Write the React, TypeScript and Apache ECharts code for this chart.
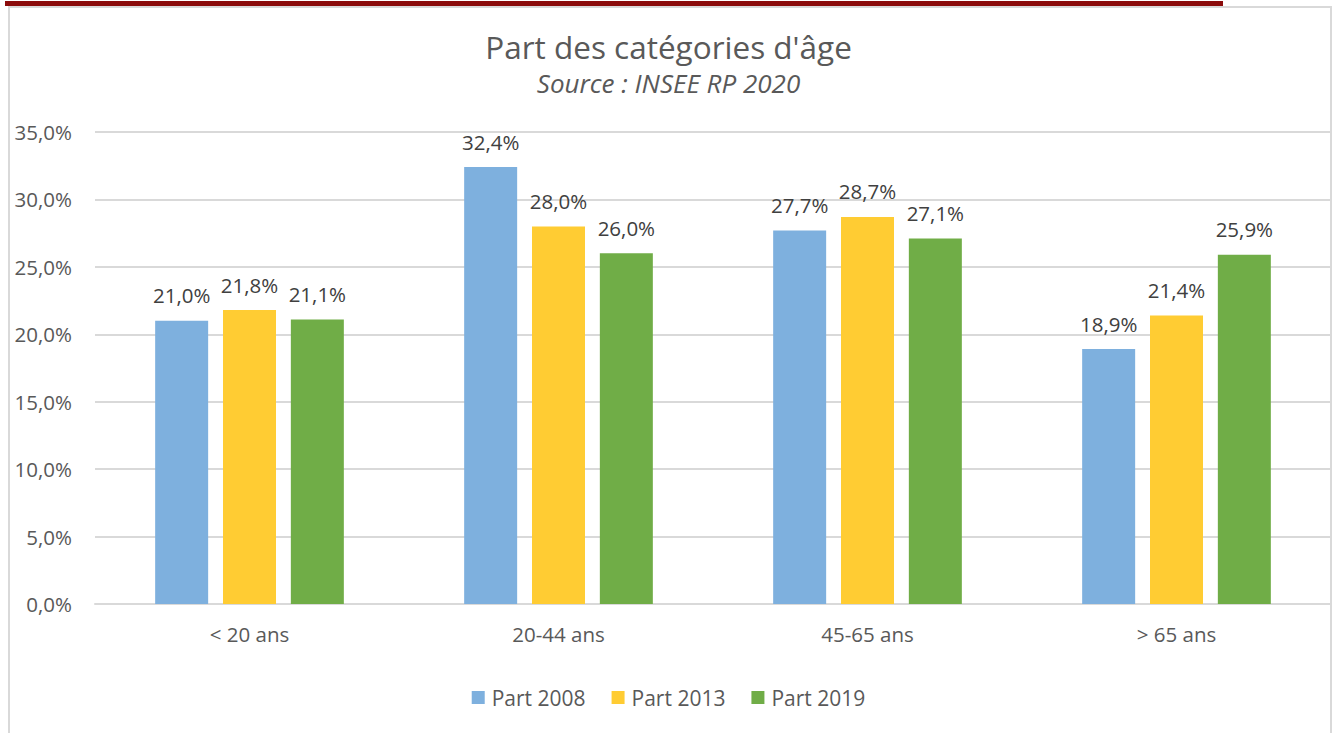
import React, { useEffect, useRef } from "react";
import * as echarts from "echarts";

const categories = ["< 20 ans", "20-44 ans", "45-65 ans", "> 65 ans"];
const part2008 = [21.0, 32.4, 27.7, 18.9];
const part2013 = [21.8, 28.0, 28.7, 21.4];
const part2019 = [21.1, 26.0, 27.1, 25.9];
const seriesNames = ["Part 2008", "Part 2013", "Part 2019"];
const colors = ["#7eb0de", "#ffcc33", "#70ad47"];

const FONT = "'Open Sans', Lato, sans-serif";
const fmt = (v: number) => v.toFixed(1).replace(".", ",") + "%";

export default function App() {
  const ref = useRef<HTMLDivElement>(null);
  useEffect(() => {
    if (!ref.current) return;
    const chart = echarts.init(ref.current, null, { renderer: "svg" });
    const data = [part2008, part2013, part2019];
    chart.setOption({
      animation: false,
      backgroundColor: "#ffffff",
      textStyle: { fontFamily: FONT },
      title: [
        {
          text: "Part des catégories d'âge",
          left: "center",
          top: 25,
          textStyle: { fontFamily: FONT, fontSize: 31.5, fontWeight: "normal", color: "#595959" },
        },
        {
          text: "Source : INSEE RP 2020",
          left: "center",
          top: 65,
          textStyle: { fontFamily: FONT, fontSize: 26, fontStyle: "italic", fontWeight: "normal", color: "#595959" },
        },
      ],
      graphic: [
        {
          type: "rect",
          shape: { x: 9, y: 7, width: 1322, height: 740 },
          style: { fill: "none", stroke: "#d9d9d9", lineWidth: 2 },
          silent: true,
        },
        {
          type: "rect",
          shape: { x: 5, y: 1, width: 1218, height: 5 },
          style: { fill: "#8b0b0b" },
          silent: true,
        },
      ],
      legend: {
        data: seriesNames,
        bottom: 20,
        left: "center",
        itemWidth: 13,
        itemHeight: 13,
        itemGap: 26,
        icon: "rect",
        textStyle: { fontFamily: FONT, fontSize: 21, color: "#595959", padding: [0, 0, 0, 2] },
      },
      grid: { left: 95, right: 6, top: 132, bottom: 129 },
      xAxis: {
        type: "category",
        data: categories,
        axisLine: { lineStyle: { color: "#d9d9d9", width: 2 } },
        axisTick: { show: false },
        axisLabel: { fontFamily: FONT, fontSize: 20.5, color: "#595959", margin: 19 },
      },
      yAxis: {
        type: "value",
        min: 0,
        max: 35,
        interval: 5,
        axisLine: { show: false },
        axisTick: { show: false },
        splitLine: { lineStyle: { color: "#d9d9d9", width: 2 } },
        axisLabel: {
          fontFamily: FONT,
          fontSize: 20.5,
          color: "#595959",
          margin: 23,
          formatter: (v: number) => fmt(v),
        },
      },
      series: seriesNames.map((name, i) => ({
        name,
        type: "bar",
        data: data[i],
        barWidth: 53,
        barGap: "28%",
        itemStyle: { color: colors[i] },
        label: {
          show: true,
          position: "top",
          distance: 15,
          fontFamily: FONT,
          fontSize: 20.5,
          color: "#404040",
          formatter: (p: any) => fmt(p.value),
        },
      })),
    });
    return () => chart.dispose();
  }, []);
  return (
    <div
      ref={ref}
      style={{ position: "fixed", left: 0, top: 0, width: 1337, height: 733, background: "#fff" }}
    />
  );
}
